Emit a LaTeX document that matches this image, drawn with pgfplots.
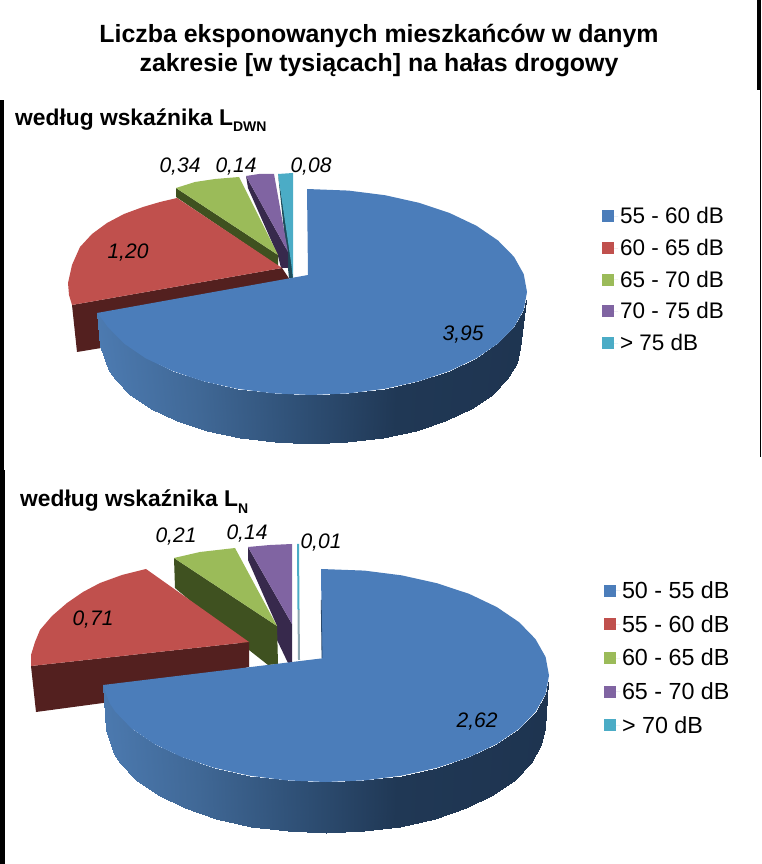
\documentclass[border=0pt]{standalone}
\usepackage{fontspec}
\setmainfont{Liberation Sans}
\usepackage{pgfplots}
\pgfplotsset{compat=1.18}
\definecolor{cblue}{RGB}{75,125,186}
\definecolor{cred}{RGB}{192,80,77}
\definecolor{cgreen}{RGB}{155,187,89}
\definecolor{cpurple}{RGB}{128,100,162}
\definecolor{cteal}{RGB}{75,172,198}
\definecolor{dred}{RGB}{83,32,31}
\definecolor{dgreen}{RGB}{63,81,32}
\definecolor{dpurple}{RGB}{55,41,76}
\definecolor{dteal}{RGB}{30,76,90}
\definecolor{gteal}{RGB}{140,166,176}
\definecolor{dblue}{RGB}{42,74,110}
\newcommand{\vallab}{\fontsize{21bp}{24bp}\selectfont\itshape}
\newcommand{\sublab}{\fontsize{22.8bp}{26bp}\selectfont\bfseries}
\newcommand{\subsub}[1]{\raisebox{-0.28em}{\fontsize{14bp}{16bp}\selectfont #1}}
% one axis per pie, in picture pixels
\pgfplotsset{
  pie/.style={
    hide axis, scale only axis, width=761bp,
    xmin=0, xmax=761, y dir=reverse,
    reverse legend,
    colormap={pieside}{rgb255(0pt)=(76,122,176); rgb255(100pt)=(64,104,150);
      rgb255(200pt)=(47,80,118); rgb255(300pt)=(32,56,85); rgb255(452pt)=(30,52,80)},
    point meta min=97, point meta max=549,
    legend cell align=left,
    legend image code/.code={\fill[##1] (0bp,-6bp) rectangle (12bp,6bp); \path (0bp,0bp) -- (16bp,0bp);},
    legend style={draw=none, fill=none, inner sep=0pt, outer sep=0pt, anchor=north west},
  },
  face/.style={fill=#1, draw=none},
  side/.style={fill=#1, draw=none, forget plot},
}
\begin{document}
\begin{tikzpicture}[x=1bp,y=1bp]
\begin{axis}[pie, at={(0bp,394bp)}, anchor=south west, height=470bp,
    ymin=0, ymax=470,
    legend style={at={(axis cs:602,205.5)}, row sep=9.9bp, font=\fontsize{22.5bp}{25bp}\selectfont}]
  \addplot[fill=black,draw=none,forget plot] coordinates {(0,100) (4,100) (4,470) (0,470)};
  \addplot[fill=black,draw=none,forget plot] coordinates {(757,0) (761,0) (761,90) (757,90)};
  \addplot[fill=black,draw=none,forget plot] coordinates {(759.6,90) (761,90) (761,457) (759.6,457)};
  % > 75 dB
  \addplot[side=dteal] coordinates {(278,174) (289,278) (293,278) (292,262)};
  \addplot[face=cteal] coordinates {(278,174) (293,173) (293,278) (291,262)};
  \addlegendentry{> 75 dB}
  % 70 - 75 dB
  \addplot[side=dpurple] coordinates {(246,176) (288,252) (288,268) (281,268) (278,256) (248,188)};
  \addplot[face=cpurple] coordinates {(246,176) (259,174) (274,174) (288,252)};
  \addlegendentry{70 - 75 dB}
  % 65 - 70 dB
  \addplot[side=dgreen] coordinates {(176,188) (278,255) (278,266) (176,197)};
  \addplot[face=cgreen] coordinates {(176,188) (195,182) (215,179) (239,177) (278,255)};
  \addlegendentry{65 - 70 dB}
  % 60 - 65 dB
  \addplot[side=dred] coordinates {(72,305) (282,268) (290,280) (150,340) (77,352)};
  \addplot[face=cred] coordinates {(72,305) (69,295) (68,283) (72,265) (80,247) (92,234) (107,223) (124,214) (143,207) (160,202) (177,198) (282,268)};
  \addlegendentry{60 - 65 dB}
  % 55 - 60 dB
  \addplot[surf, mesh/rows=2, shader=interp, point meta=explicit, forget plot] table[meta=c] {
x y c
97 313 97
102.4 318.7 102
108 327.2 108
124 343.5 124
145.5 358.2 145
172.2 370.9 172
203 381.2 203
237.1 388.8 237
273.5 393.4 273
311 395 311
348.5 393.4 348
384.9 388.8 385
419 381.2 419
449.8 370.9 450
476.5 358.2 476
498 343.5 498
514 327.2 514
523.7 309.9 524
526 300 527
100 346 97
109 371 102
114.6 379.5 108
130 395 124
151 409 145
176.7 421 172
206.5 430.9 203
239.5 438.1 237
274.7 442.5 273
311 444 311
347.3 442.5 348
382.5 438.1 385
415.5 430.9 419
445.3 421 450
471 409 476
492 395 498
507.4 379.5 514
516.8 363 524
520 348 527
};
  \addplot[face=cblue] coordinates {(307,189) (348.5,190.6) (384.9,195.2) (419,202.8) (449.8,213.1) (476.5,225.8) (498,240.5) (514,256.8) (523.7,274.1) (527,292) (523.7,309.9) (514,327.2) (498,343.5) (476.5,358.2) (449.8,370.9) (419,381.2) (384.9,388.8) (348.5,393.4) (311,395) (273.5,393.4) (237.1,388.8) (203,381.2) (172.2,370.9) (145.5,358.2) (124,343.5) (108,327.2) (102,319) (97,313) (308,275)};
  \addlegendentry{55 - 60 dB}
  \node[font=\fontsize{24.9bp}{29bp}\selectfont\bfseries, align=center] at (axis cs:379,50.5)
    {Liczba eksponowanych mieszkańców w danym\\zakresie [w tysiącach] na hałas drogowy};
  \node[font=\sublab, anchor=base west, inner sep=0pt] at (axis cs:15,125.5) {według wskaźnika L\subsub{DWN}};
  \node[font=\vallab] at (axis cs:463,335) {3,95};
  \node[font=\vallab] at (axis cs:128,253) {1,20};
  \node[font=\vallab] at (axis cs:180,167) {0,34};
  \node[font=\vallab] at (axis cs:236,167) {0,14};
  \node[font=\vallab] at (axis cs:311,167) {0,08};
\end{axis}
\begin{axis}[pie, at={(0bp,0bp)}, anchor=south west, height=394bp,
    ymin=470, ymax=864,
    legend style={at={(axis cs:604,579.5)}, row sep=11.3bp, font=\fontsize{23.3bp}{25bp}\selectfont}]
  \addplot[fill=black,draw=none,forget plot] coordinates {(0,470) (5,470) (5,864) (0,864)};
  % > 70 dB
  \addplot[side=gteal] coordinates {(297.5,610) (299.5,610) (300,660) (298,660)};
  \addplot[face=cteal] coordinates {(297,544) (299,544) (299.5,610) (297.5,610)};
  \addlegendentry{> 70 dB}
  % 65 - 70 dB
  \addplot[side=dpurple] coordinates {(248,547) (292,624) (292,663) (288,663) (277,640) (277,626) (248,560)};
  \addplot[face=cpurple] coordinates {(248,547) (270,545) (292,544) (292,624)};
  \addlegendentry{65 - 70 dB}
  % 60 - 65 dB
  \addplot[side=dgreen] coordinates {(174,558) (277,626) (278,664) (268,665) (249,650) (175,588)};
  \addplot[face=cgreen] coordinates {(174,558) (200,552) (235,548) (277,626)};
  \addlegendentry{60 - 65 dB}
  % 55 - 60 dB
  \addplot[side=dred] coordinates {(31,666) (249,642) (249,667) (103,703) (36,712)};
  \addplot[face=cred] coordinates {(31,666) (31,655) (35,642) (40,630) (52,616) (67,603) (83,592) (100,583) (122,575) (146,569) (249,642)};
  \addlegendentry{55 - 60 dB}
  % 50 - 55 dB
  \addplot[surf, mesh/rows=2, shader=interp, point meta=explicit, forget plot] table[meta=c] {
x y c
103 685 103
109.6 703.1 110
115.5 711.9 115
131.9 728.8 132
154.3 744 154
181.8 757.1 182
213.7 767.7 214
249.1 775.6 249
286.7 780.4 287
325.5 782 325
364.3 780.4 364
401.9 775.6 402
437.3 767.7 437
469.2 757.1 469
496.7 744 497
519.1 728.8 519
535.5 711.9 535
545.6 694 546
548 682 549
106 730 103
114 753.7 110
119.7 762.6 115
135.8 779.5 132
157.7 794.8 154
184.7 808 182
216 818.7 214
250.6 826.5 249
287.5 831.4 287
325.5 833 325
363.5 831.4 364
400.4 826.5 402
435 818.7 437
466.3 808 469
493.3 794.8 497
515.2 779.5 519
531.3 762.6 535
541.2 744.6 546
544.5 728 549
};
  \addplot[face=cblue] coordinates {(321,569) (364.3,570.6) (401.9,575.4) (437.3,583.3) (469.2,593.9) (496.7,607) (519.1,622.2) (535.5,639.1) (545.6,657) (549,675.5) (545.6,694) (535.5,711.9) (519.1,728.8) (496.7,744) (469.2,757.1) (437.3,767.7) (401.9,775.6) (364.3,780.4) (325.5,782) (286.7,780.4) (249.1,775.6) (213.7,767.7) (181.8,757.1) (154.3,744) (131.9,728.8) (115.5,711.9) (109.6,703.1) (103,685) (325,658) (322,658.5)};
  \addlegendentry{50 - 55 dB}
  \addplot[draw=dblue, line width=0.8bp, forget plot] coordinates {(321.2,600) (322,658)};
  \node[font=\sublab, anchor=base west, inner sep=0pt] at (axis cs:20,507) {według wskaźnika L\subsub{N}};
  \node[font=\vallab] at (axis cs:477,722) {2,62};
  \node[font=\vallab] at (axis cs:93,620) {0,71};
  \node[font=\vallab] at (axis cs:176,537) {0,21};
  \node[font=\vallab] at (axis cs:247,534) {0,14};
  \node[font=\vallab] at (axis cs:321,543) {0,01};
\end{axis}
\end{tikzpicture}
\end{document}
